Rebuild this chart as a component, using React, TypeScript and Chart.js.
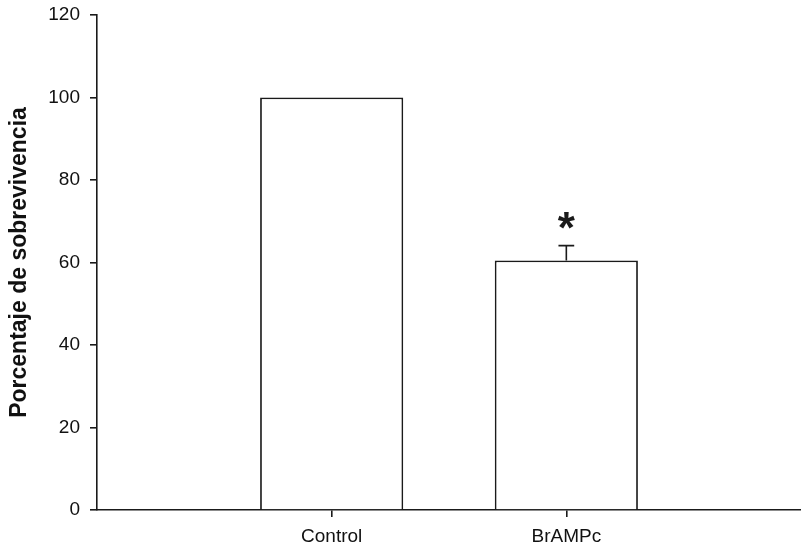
import React, { useEffect, useRef } from 'react';
import { Chart, registerables } from 'chart.js';

Chart.register(...registerables);

const categories = ['', 'Control', 'BrAMPc', ''];
const survival: (number | null)[] = [null, 100, 60.5, null];
const sem: (number | null)[] = [null, 0, 3.6, null];
const significance = ['', '', '*', ''];
const yMin = 0;
const yMax = 120;
const yStep = 20;
const yTitle = 'Porcentaje de sobrevivencia';

const FONT = '"Liberation Sans", Arial, Helvetica, sans-serif';
const INK = '#1a1a1a';

const errorBarPlugin = {
  id: 'errorBarsAndStars',
  afterDatasetsDraw(chart: any) {
    const { ctx } = chart;
    const y = chart.scales.y;
    const meta = chart.getDatasetMeta(0);
    ctx.save();
    ctx.strokeStyle = INK;
    ctx.fillStyle = INK;
    ctx.lineWidth = 1.6;
    meta.data.forEach((bar: any, i: number) => {
      const v = survival[i];
      if (v == null) return;
      const e = sem[i] || 0;
      const cx = bar.x;
      const yTop = y.getPixelForValue(v + e);
      if (e) {
        const yBase = y.getPixelForValue(v);
        const capHalf = bar.width * 0.055;
        ctx.beginPath();
        ctx.moveTo(cx, yBase);
        ctx.lineTo(cx, yTop);
        ctx.moveTo(cx - capHalf, yTop);
        ctx.lineTo(cx + capHalf, yTop);
        ctx.stroke();
      }
      const s = significance[i];
      if (s) {
        ctx.font = `bold 44px ${FONT}`;
        ctx.textAlign = 'center';
        ctx.textBaseline = 'alphabetic';
        const m = ctx.measureText(s);
        const centerY = yTop - 25;
        ctx.fillText(s, cx, centerY + (m.actualBoundingBoxAscent - m.actualBoundingBoxDescent) / 2);
      }
    });
    ctx.restore();
  },
};

export default function App() {
  const ref = useRef<HTMLCanvasElement | null>(null);

  useEffect(() => {
    document.body.style.margin = '0';
    const canvas = ref.current;
    if (!canvas) return;
    const chart = new Chart(canvas, {
      type: 'bar',
      data: {
        labels: categories,
        datasets: [
          {
            data: survival as any,
            backgroundColor: '#ffffff',
            borderColor: INK,
            borderWidth: 1.8,
            barPercentage: 0.61,
            categoryPercentage: 1,
          },
        ],
      },
      options: {
        animation: false,
        responsive: true,
        maintainAspectRatio: false,
        layout: { padding: { top: 15, right: 0, bottom: 0, left: 0 } },
        plugins: {
          legend: { display: false },
          tooltip: { enabled: false },
        },
        scales: {
          x: {
            type: 'category',
            offset: false,
            afterFit: (s: any) => {
              s.height = 39;
              s.paddingLeft = 0;
              s.paddingRight = 0;
            },
            grid: {
              offset: false,
              drawOnChartArea: false,
              drawTicks: true,
              tickLength: 7,
              lineWidth: 1.6,
              color: (c: any) => (categories[c.index] ? INK : 'rgba(0,0,0,0)'),
            },
            border: { display: true, color: INK, width: 1.6 },
            ticks: {
              autoSkip: false,
              maxRotation: 0,
              padding: 8,
              color: '#111',
              font: { family: FONT, size: 19 },
            },
          },
          y: {
            min: yMin,
            max: yMax,
            afterFit: (s: any) => {
              s.width = 97;
              s.paddingTop = 0;
              s.paddingBottom = 0;
            },
            grid: {
              drawOnChartArea: false,
              drawTicks: true,
              tickLength: 7,
              lineWidth: 1.6,
              color: INK,
            },
            border: { display: true, color: INK, width: 1.6 },
            ticks: {
              stepSize: yStep,
              padding: 10,
              color: '#111',
              font: { family: FONT, size: 19 },
            },
            title: {
              display: true,
              text: yTitle,
              color: '#111',
              padding: { top: 6, bottom: 0 },
              font: { family: FONT, size: 23, weight: 'bold' },
            },
          },
        },
      },
      plugins: [errorBarPlugin],
    });
    return () => chart.destroy();
  }, []);

  return (
    <div style={{ position: 'relative', width: '801px', height: '549px' }}>
      <canvas ref={ref} />
    </div>
  );
}
